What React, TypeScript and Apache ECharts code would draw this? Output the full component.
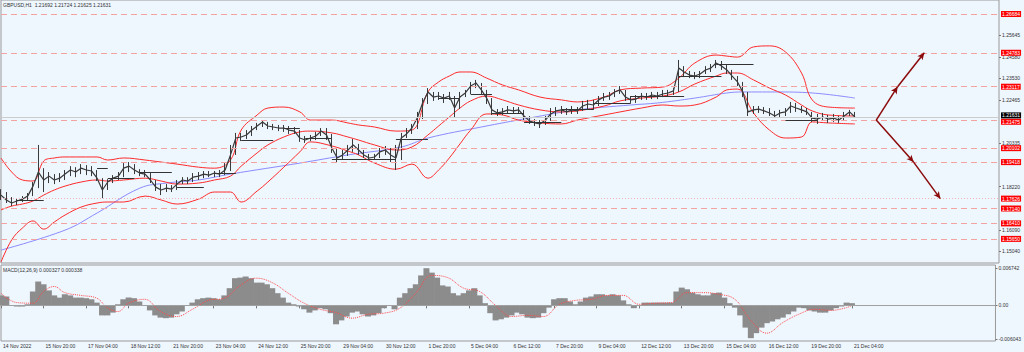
import React, { useEffect, useRef } from 'react';
import * as echarts from 'echarts';

// ---------- data ----------
const tickLabels = ['14 Nov 2022','15 Nov 20:00','17 Nov 04:00','18 Nov 12:00','21 Nov 20:00','23 Nov 04:00','24 Nov 12:00','25 Nov 20:00','29 Nov 04:00','30 Nov 12:00','1 Dec 20:00','5 Dec 04:00','6 Dec 12:00','7 Dec 20:00','9 Dec 04:00','12 Dec 12:00','13 Dec 20:00','15 Dec 04:00','16 Dec 12:00','19 Dec 20:00','21 Dec 04:00'];

const priceTicks = [1.15040, 1.16090, 1.18220, 1.20335, 1.22465, 1.23530, 1.24580, 1.25645];
const macdTicks = [-0.006043, 0, 0.006742];

const firstOpen = 1.1790;
const closes = [
  1.1780,1.1756,1.1741,1.1751,1.1760,1.1775,1.1824,1.1893,1.1854,1.1873,
  1.1854,1.1863,1.1883,1.1903,1.1893,1.1912,1.1903,1.1898,1.1863,1.1805,
  1.1844,1.1863,1.1873,1.1912,1.1922,1.1903,1.1888,1.1883,1.1854,1.1819,
  1.1805,1.1814,1.1809,1.1834,1.1854,1.1849,1.1868,1.1873,1.1883,1.1878,
  1.1888,1.1883,1.1903,1.1977,1.2060,1.2065,1.2075,1.2099,1.2119,1.2139,
  1.2119,1.2114,1.2109,1.2109,1.2099,1.2094,1.2060,1.2050,1.2060,1.2070,
  1.2094,1.2075,1.2011,1.1962,1.1977,1.2001,1.2026,1.2001,1.1977,1.1962,
  1.1967,1.1992,1.2001,1.1977,1.1962,1.2060,1.2080,1.2109,1.2158,1.2232,
  1.2286,1.2261,1.2266,1.2256,1.2266,1.2207,1.2261,1.2281,1.2315,1.2330,
  1.2296,1.2256,1.2198,1.2183,1.2188,1.2198,1.2193,1.2198,1.2168,1.2144,
  1.2134,1.2129,1.2148,1.2178,1.2193,1.2198,1.2188,1.2198,1.2193,1.2217,
  1.2227,1.2222,1.2247,1.2261,1.2266,1.2286,1.2296,1.2261,1.2247,1.2251,
  1.2266,1.2261,1.2271,1.2266,1.2276,1.2281,1.2291,1.2403,1.2384,1.2369,
  1.2364,1.2374,1.2394,1.2403,1.2428,1.2413,1.2394,1.2364,1.2335,1.2286,
  1.2188,1.2198,1.2202,1.2193,1.2183,1.2168,1.2183,1.2188,1.2217,1.2207,
  1.2198,1.2188,1.2158,1.2153,1.2163,1.2153,1.2158,1.2148,1.2168,1.2188,
  1.2163
];
const highs = [
  1.1809,1.1795,1.1770,1.1765,1.1775,1.1790,1.1844,1.2026,1.1912,1.1893,
  1.1883,1.1888,1.1903,1.1922,1.1917,1.1932,1.1927,1.1922,1.1903,1.1863,
  1.1858,1.1878,1.1893,1.1937,1.1942,1.1932,1.1907,1.1903,1.1888,1.1854,
  1.1834,1.1834,1.1829,1.1854,1.1868,1.1868,1.1888,1.1893,1.1898,1.1898,
  1.1898,1.1903,1.1937,1.2026,1.2085,1.2085,1.2099,1.2119,1.2134,1.2148,
  1.2139,1.2129,1.2124,1.2124,1.2119,1.2114,1.2099,1.2070,1.2075,1.2090,
  1.2109,1.2109,1.2080,1.2011,1.2001,1.2026,1.2055,1.2031,1.2001,1.1982,
  1.1982,1.2011,1.2021,1.2011,1.2026,1.2085,1.2109,1.2129,1.2188,1.2256,
  1.2305,1.2286,1.2286,1.2276,1.2286,1.2266,1.2286,1.2296,1.2335,1.2345,
  1.2330,1.2296,1.2256,1.2202,1.2207,1.2217,1.2212,1.2212,1.2198,1.2168,
  1.2153,1.2148,1.2168,1.2207,1.2212,1.2217,1.2207,1.2217,1.2212,1.2242,
  1.2247,1.2247,1.2266,1.2281,1.2286,1.2300,1.2315,1.2296,1.2266,1.2271,
  1.2281,1.2281,1.2286,1.2286,1.2296,1.2296,1.2305,1.2443,1.2413,1.2389,
  1.2384,1.2389,1.2413,1.2423,1.2443,1.2438,1.2418,1.2394,1.2364,1.2335,
  1.2286,1.2217,1.2217,1.2212,1.2207,1.2193,1.2198,1.2207,1.2237,1.2232,
  1.2217,1.2207,1.2188,1.2178,1.2183,1.2173,1.2178,1.2168,1.2188,1.2198,
  1.2188
];
const lows = [
  1.1756,1.1741,1.1726,1.1731,1.1746,1.1756,1.1775,1.1814,1.1795,1.1839,
  1.1834,1.1844,1.1854,1.1873,1.1868,1.1883,1.1878,1.1873,1.1849,1.1765,
  1.1805,1.1839,1.1854,1.1868,1.1893,1.1883,1.1873,1.1868,1.1839,1.1800,
  1.1780,1.1795,1.1795,1.1805,1.1834,1.1834,1.1844,1.1854,1.1863,1.1868,
  1.1868,1.1868,1.1878,1.1898,1.1977,1.2045,1.2055,1.2070,1.2099,1.2114,
  1.2104,1.2099,1.2094,1.2090,1.2080,1.2080,1.2041,1.2036,1.2045,1.2050,
  1.2070,1.2050,1.1987,1.1942,1.1957,1.1972,1.1992,1.1977,1.1962,1.1952,
  1.1952,1.1962,1.1977,1.1942,1.1903,1.1952,1.2060,1.2080,1.2104,1.2153,
  1.2227,1.2242,1.2247,1.2232,1.2247,1.2163,1.2202,1.2261,1.2276,1.2305,
  1.2276,1.2227,1.2173,1.2168,1.2173,1.2178,1.2178,1.2178,1.2148,1.2129,
  1.2119,1.2109,1.2124,1.2144,1.2168,1.2178,1.2173,1.2178,1.2178,1.2193,
  1.2202,1.2198,1.2217,1.2242,1.2247,1.2261,1.2276,1.2242,1.2232,1.2232,
  1.2247,1.2247,1.2251,1.2251,1.2261,1.2266,1.2271,1.2286,1.2359,1.2354,
  1.2349,1.2354,1.2374,1.2384,1.2403,1.2394,1.2374,1.2345,1.2315,1.2261,
  1.2168,1.2178,1.2183,1.2178,1.2168,1.2158,1.2163,1.2168,1.2183,1.2188,
  1.2183,1.2173,1.2139,1.2129,1.2144,1.2134,1.2139,1.2134,1.2144,1.2168,
  1.2158
];

// Bollinger bands (sampled bar indices)
const bandIdx = [0,2,4,6,8,10,12,15,18,20,23,27,30,33,37,40,43,45,48,50,53,56,58,62,65,67,70,74,77,80,82,84,86,88,91,94,97,101,105,108,113,116,120,124,127,130,134,136,138,141,144,147,150,152,155,160];
const upperBand = [1.1962,1.1893,1.1854,1.1849,1.1947,1.1962,1.1967,1.1967,1.1967,1.1952,1.1962,1.1952,1.1942,1.1932,1.1917,1.1912,1.1952,1.2099,1.2173,1.2207,1.2212,1.2188,1.2148,1.2148,1.2134,1.2124,1.2114,1.2094,1.2099,1.2286,1.2335,1.2364,1.2384,1.2384,1.2354,1.2320,1.2296,1.2261,1.2247,1.2237,1.2261,1.2296,1.2305,1.2310,1.2354,1.2428,1.2467,1.2462,1.2457,1.2507,1.2512,1.2482,1.2379,1.2247,1.2212,1.2207];
const middleBand = [1.1707,1.1726,1.1736,1.1751,1.1780,1.1805,1.1824,1.1844,1.1854,1.1849,1.1854,1.1863,1.1849,1.1834,1.1839,1.1854,1.1873,1.1922,1.1987,1.2026,1.2065,1.2090,1.2094,1.2085,1.2065,1.2050,1.2026,1.2001,1.2016,1.2075,1.2119,1.2163,1.2207,1.2242,1.2266,1.2247,1.2222,1.2198,1.2188,1.2193,1.2217,1.2242,1.2256,1.2266,1.2286,1.2325,1.2364,1.2379,1.2379,1.2345,1.2305,1.2271,1.2222,1.2193,1.2173,1.2168];
const lowerBand = [1.1451,1.1560,1.1618,1.1653,1.1613,1.1648,1.1682,1.1721,1.1741,1.1746,1.1746,1.1775,1.1756,1.1736,1.1760,1.1795,1.1795,1.1746,1.1800,1.1844,1.1917,1.1992,1.2041,1.2021,1.1996,1.1977,1.1937,1.1907,1.1932,1.1863,1.1903,1.1962,1.2031,1.2099,1.2178,1.2173,1.2148,1.2134,1.2129,1.2148,1.2173,1.2188,1.2207,1.2222,1.2217,1.2222,1.2261,1.2296,1.2300,1.2183,1.2099,1.2060,1.2065,1.2139,1.2134,1.2129];

// long moving average
const maIdx = [0,12,18,26,31,37,43,56,65,75,80,90,99,108,118,123,130,136,139,145,152,160];
const maVals = [1.1510,1.1608,1.1692,1.1814,1.1839,1.1854,1.1883,1.1937,1.1977,1.2016,1.2060,1.2114,1.2158,1.2198,1.2222,1.2232,1.2256,1.2281,1.2286,1.2286,1.2281,1.2256];

// MACD main
const macd = [
  0.0018,0.0016,0.0000,-0.0002,-0.0002,0.0002,0.0025,0.0043,0.0038,0.0027,
  0.0018,0.0014,0.0020,0.0018,0.0014,0.0014,0.0013,0.0011,0.0005,-0.0018,
  -0.0018,-0.0013,0.0002,0.0011,0.0014,0.0013,0.0007,0.0000,-0.0009,-0.0018,
  -0.0022,-0.0023,-0.0022,-0.0016,-0.0011,0.0000,0.0005,0.0011,0.0013,0.0014,
  0.0013,0.0011,0.0018,0.0031,0.0049,0.0050,0.0052,0.0049,0.0041,0.0041,
  0.0038,0.0031,0.0022,0.0014,0.0005,0.0002,-0.0002,-0.0007,-0.0013,-0.0009,
  -0.0005,-0.0007,-0.0014,-0.0034,-0.0027,-0.0020,-0.0013,-0.0011,-0.0016,-0.0020,
  -0.0018,-0.0014,-0.0005,0.0000,-0.0007,0.0014,0.0022,0.0031,0.0038,0.0054,
  0.0067,0.0059,0.0050,0.0036,0.0034,0.0022,0.0018,0.0022,0.0027,0.0031,
  0.0018,0.0004,-0.0014,-0.0027,-0.0025,-0.0022,-0.0018,-0.0013,-0.0016,-0.0022,
  -0.0023,-0.0022,-0.0014,-0.0004,0.0011,0.0013,0.0013,0.0007,0.0002,0.0007,
  0.0014,0.0016,0.0020,0.0020,0.0018,0.0020,0.0018,0.0009,0.0002,-0.0005,
  0.0000,0.0005,0.0005,0.0005,0.0005,0.0005,0.0005,0.0025,0.0032,0.0029,
  0.0023,0.0020,0.0018,0.0018,0.0022,0.0023,0.0014,0.0004,-0.0004,-0.0018,
  -0.0040,-0.0059,-0.0050,-0.0040,-0.0032,-0.0029,-0.0025,-0.0022,-0.0016,-0.0011,
  -0.0004,-0.0005,-0.0009,-0.0011,-0.0013,-0.0013,-0.0009,-0.0005,-0.0002,0.0005,
  0.0004
];
// MACD signal (sampled bar indices)
const sigIdx = [0,3,6,8,10,12,15,18,20,22,24,27,30,33,36,39,42,45,48,51,54,57,60,63,66,69,72,75,78,81,84,87,90,93,96,99,102,105,108,111,114,117,120,123,126,129,132,135,138,141,144,147,150,153,156,159,160];
const sigVals = [0.0022,0.0005,0.0004,0.0025,0.0034,0.0023,0.0018,0.0013,-0.0004,-0.0011,0.0004,0.0011,-0.0011,-0.0020,-0.0007,0.0009,0.0013,0.0036,0.0049,0.0041,0.0022,0.0004,-0.0007,-0.0013,-0.0023,-0.0016,-0.0014,-0.0005,0.0022,0.0054,0.0050,0.0031,0.0025,0.0000,-0.0020,-0.0018,-0.0020,0.0002,0.0009,0.0011,0.0018,0.0018,0.0002,0.0004,0.0005,0.0023,0.0023,0.0020,0.0011,-0.0027,-0.0050,-0.0031,-0.0016,-0.0007,-0.0009,-0.0004,0.0000];

// horizontal levels
const levels = [1.26684, 1.24783, 1.23117, 1.21475, 1.20102, 1.19418, 1.17140, 1.16410, 1.15650];
const dottedLevel = 1.17626;
const currentPrice = 1.21631;

// daily open segments: [startBar, endBar, price]
const dailyOpens = [[3,8,1.1756],[18,20,1.1912],[20,25,1.1863],[26,32,1.1893],[33,38,1.1819],[40,44,1.1888],[45,51,1.2050],[53,56,1.2109],[57,62,1.2060],[62,74,1.1957],[74,80,1.2055],[82,86,1.2256],[88,92,1.2276],[92,98,1.2183],[98,105,1.2139],[105,111,1.2202],[111,118,1.2232],[118,128,1.2266],[127,135,1.2364],[134,141,1.2423],[147,153,1.2148]];

// projection arrows [bar, price]
const arrowStart = [164, 1.2148];
const arrowUpMid = [168, 1.23117];
const arrowUpEnd = [173, 1.24783];
const arrowDnMid = [171, 1.19418];
const arrowDnEnd = [176, 1.17626];

const titleText = 'GBPUSD,H1  1.21692 1.21724 1.21625 1.21631';
const macdText = 'MACD(12,26,9) 0.000327 0.000338';

// ---------- chart ----------
const N_BARS = 188;
const FONT = 'Liberation Sans, Arial, sans-serif';

export default function App() {
  const ref = useRef<HTMLDivElement>(null);
  useEffect(() => {
    if (!ref.current) return;
    const chart = echarts.init(ref.current, null, { renderer: 'svg' });

    const cats = Array.from({ length: N_BARS }, (_, i) =>
      i % 8 === 0 && i / 8 < tickLabels.length ? tickLabels[i / 8] : 'b' + i
    );
    const showIdx = (i: number) => i % 8 === 0 && i / 8 < tickLabels.length;
    const ohlc = closes.map((c, i) => [i === 0 ? firstOpen : closes[i - 1], c, lows[i], highs[i]]);
    const pairs = (idx: number[], vals: number[]) => idx.map((x, k) => [x, vals[k]]);

    const redLabel = (v: number, bg: string, dy: number) => ({
      show: true,
      position: 'end',
      distance: 2,
      offset: [0, dy],
      formatter: () => v.toFixed(5),
      backgroundColor: bg,
      color: '#ffffff',
      fontSize: 5,
      lineHeight: 5,
      fontFamily: FONT,
      padding: [1, 1, 0, 1],
    });

    const levelData: any[] = levels.map((v) => ({
      yAxis: v,
      lineStyle: { color: '#f4a3a3', type: [6, 4], width: 1 },
      label: redLabel(v, '#ff0000', v === 1.21475 ? 1.6 : 0),
    }));
    levelData.push({
      yAxis: dottedLevel,
      lineStyle: { color: '#f4b4b4', type: [1, 2], width: 1 },
      label: redLabel(dottedLevel, '#ff0000', 0),
    });
    levelData.push({
      yAxis: currentPrice,
      lineStyle: { color: '#cccccc', type: 'solid', width: 1 },
      label: redLabel(currentPrice, '#000000', -1.6),
    });

    const seg = (a: number[], b: number[]) => [{ coord: a }, { coord: b }];

    const option: any = {
      animation: false,
      backgroundColor: '#eef6fe',
      textStyle: { fontFamily: FONT },
      grid: [
        { left: 1, right: 25, top: 0, height: 263, show: true, borderColor: '#9a9a9a', borderWidth: 1, backgroundColor: 'transparent' },
        { left: 1, right: 25, top: 265, height: 76, show: true, borderColor: '#9a9a9a', borderWidth: 1, backgroundColor: 'transparent' },
      ],
      xAxis: [
        { type: 'category', gridIndex: 0, data: cats, boundaryGap: false, axisLine: { show: false }, axisTick: { show: false }, axisLabel: { show: false }, splitLine: { show: false } },
        {
          type: 'category', gridIndex: 1, data: cats, boundaryGap: false,
          axisLine: { show: true, lineStyle: { color: '#9a9a9a' } },
          axisTick: { show: true, interval: showIdx, length: 3, lineStyle: { color: '#777777' } },
          axisLabel: { show: true, interval: showIdx, align: 'left', fontSize: 5, color: '#333333', margin: 2, padding: [0, 0, 0, 2], fontFamily: FONT },
          splitLine: { show: false },
        },
      ],
      yAxis: [
        {
          type: 'value', gridIndex: 0, position: 'right', min: 1.14467, max: 1.27372,
          splitLine: { show: false }, axisLine: { show: false },
          axisTick: { show: true, customValues: priceTicks, length: 2, lineStyle: { color: '#777777' } },
          axisLabel: { customValues: priceTicks, formatter: (v: number) => v.toFixed(5), fontSize: 5, color: '#333333', margin: 3, fontFamily: FONT },
        },
        {
          type: 'value', gridIndex: 1, position: 'right', min: -0.006411, max: 0.007275,
          splitLine: { show: false }, axisLine: { show: false },
          axisTick: { show: true, customValues: macdTicks, length: 2, lineStyle: { color: '#777777' } },
          axisLabel: { customValues: macdTicks, formatter: (v: number) => (v === 0 ? '0.00' : v.toFixed(6)), fontSize: 5, color: '#333333', margin: 3, fontFamily: FONT },
        },
      ],
      graphic: [
        { type: 'text', left: 3, top: 2, style: { text: titleText, fontSize: 5, fill: '#333333', fontFamily: FONT } },
        { type: 'text', left: 3, top: 267, style: { text: macdText, fontSize: 5, fill: '#333333', fontFamily: FONT } },
      ],
      series: [
        {
          name: 'MA', type: 'line', xAxisIndex: 0, yAxisIndex: 0, data: pairs(maIdx, maVals),
          symbol: 'none', smooth: 0.4, lineStyle: { color: '#8c8cff', width: 1 }, z: 2,
          markLine: { silent: true, precision: 5, symbol: ['none', 'none'], animation: false, data: levelData },
        },
        {
          name: 'Upper', type: 'line', xAxisIndex: 0, yAxisIndex: 0, data: pairs(bandIdx, upperBand),
          symbol: 'none', smooth: 0.4, lineStyle: { color: '#ff2a2a', width: 1 }, z: 3,
          markLine: {
            silent: true, precision: 5, symbol: ['none', 'arrow'], symbolSize: [5, 7], animation: false,
            lineStyle: { color: '#8b0a0a', width: 1.5, type: 'solid' }, label: { show: false },
            data: [seg(arrowStart, arrowUpMid), seg(arrowUpMid, arrowUpEnd), seg(arrowStart, arrowDnMid), seg(arrowDnMid, arrowDnEnd)],
          },
        },
        {
          name: 'Middle', type: 'line', xAxisIndex: 0, yAxisIndex: 0, data: pairs(bandIdx, middleBand),
          symbol: 'none', smooth: 0.4, lineStyle: { color: '#ff2a2a', width: 1 }, z: 3,
          markLine: {
            silent: true, precision: 5, symbol: ['none', 'none'], animation: false,
            lineStyle: { color: '#333333', width: 1, type: 'solid' }, label: { show: false },
            data: dailyOpens.map(([s, e, p]) => seg([s, p], [e, p])),
          },
        },
        {
          name: 'Lower', type: 'line', xAxisIndex: 0, yAxisIndex: 0, data: pairs(bandIdx, lowerBand),
          symbol: 'none', smooth: 0.4, lineStyle: { color: '#ff2a2a', width: 1 }, z: 3,
        },
        {
          name: 'GBPUSD', type: 'candlestick', xAxisIndex: 0, yAxisIndex: 0, data: ohlc, barWidth: 1, z: 4,
          itemStyle: { color: '#3a3a3a', color0: '#3a3a3a', borderColor: '#3a3a3a', borderColor0: '#3a3a3a', borderWidth: 1 },
        },
        {
          name: 'Close', type: 'line', xAxisIndex: 0, yAxisIndex: 0, data: closes,
          symbol: 'none', lineStyle: { color: '#3a3a3a', width: 1.2 }, z: 4,
        },
        {
          name: 'MACD', type: 'bar', xAxisIndex: 1, yAxisIndex: 1, data: macd, barWidth: 6,
          itemStyle: { color: '#8c8c8c' },
          markLine: { silent: true, precision: 6, symbol: ['none', 'none'], animation: false, label: { show: false }, lineStyle: { color: '#a0a0a0', type: 'solid', width: 1 }, data: [{ yAxis: 0 }] },
        },
        {
          name: 'Signal', type: 'line', xAxisIndex: 1, yAxisIndex: 1, data: pairs(sigIdx, sigVals),
          symbol: 'none', smooth: 0.4, lineStyle: { color: '#ff4a4a', width: 1, type: 'dotted' }, z: 3,
        },
      ],
    };
    chart.setOption(option);
    return () => chart.dispose();
  }, []);

  return (
    <div style={{ position: 'absolute', left: 0, top: 0, width: 1024, height: 352, background: '#eef6fe' }}>
      <div ref={ref} style={{ width: 1024, height: 352 }} />
    </div>
  );
}
